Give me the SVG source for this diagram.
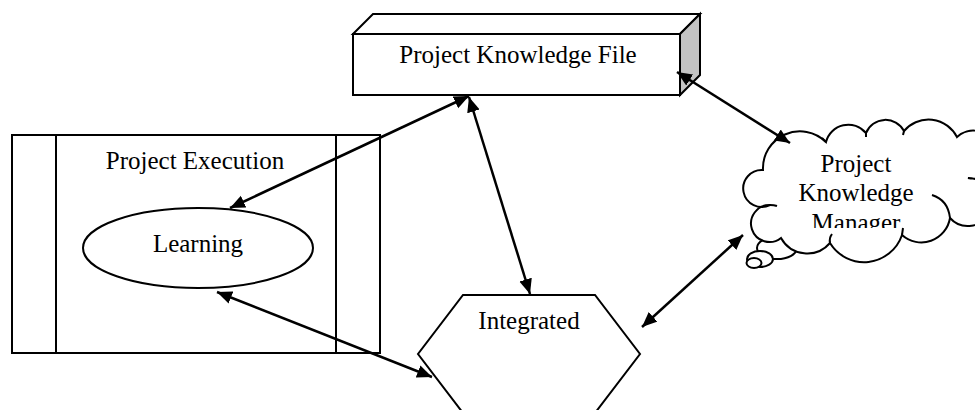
<svg xmlns="http://www.w3.org/2000/svg" width="975" height="410" viewBox="0 0 975 410">
<defs>
<style>
.s{fill:#fff;stroke:#000;stroke-width:2;stroke-linejoin:miter}
.ln{fill:none;stroke:#000;stroke-width:2}
.t{font-family:"Liberation Serif","Times New Roman",serif;font-size:25px;fill:#000;text-anchor:middle}
.c{fill:none;stroke:#000;stroke-width:2.5;marker-start:url(#ah);marker-end:url(#ah)}
</style>
<marker id="ah" markerUnits="userSpaceOnUse" markerWidth="16" markerHeight="14" refX="15" refY="6.5" orient="auto-start-reverse" viewBox="0 0 16 13"><path d="M0,0 L15,6.5 L0,13 z" fill="#000"/></marker>
<clipPath id="cc"><rect x="700" y="100" width="275" height="128"/></clipPath>
</defs>
<rect width="975" height="410" fill="#fff"/>
<g id="project-execution">
<rect class="s" x="12" y="135" width="368" height="218"/>
<line class="ln" x1="56" y1="135" x2="56" y2="353"/>
<line class="ln" x1="336" y1="135" x2="336" y2="353"/>
<text class="t" x="195" y="169">Project Execution</text>
</g>
<g id="learning">
<ellipse class="s" cx="198" cy="248" rx="115" ry="40"/>
<text class="t" x="198" y="252">Learning</text>
</g>
<g id="project-knowledge-file">
<polygon class="s" points="353,34 373,14 700,14 680,34"/>
<polygon class="s" points="680,34 700,14 700,75 680,95" style="fill:#c4c4c4"/>
<rect class="s" x="353" y="34" width="327" height="61"/>
<text class="t" x="518" y="63">Project Knowledge File</text>
</g>
<g id="integrated">
<polygon class="s" points="463,295 595,295 640,354 595,413 463,413 418,354"/>
<text class="t" x="529" y="329">Integrated</text>
</g>
<g id="project-knowledge-manager">
<ellipse class="s" cx="777" cy="248" rx="20" ry="11"/>
<ellipse class="s" cx="760" cy="259" rx="13" ry="8"/>
<ellipse class="s" cx="754" cy="263" rx="7.5" ry="5"/>
<path class="s" d="M763,170 A37,37 0 0 1 826,142 A23,23 0 0 1 866,133 A21,21 0 0 1 904,131 A32,32 0 0 1 957,137 A24,24 0 1 1 968,178 A24,24 0 1 1 950,218 A29,29 0 0 1 902,235 A40,40 0 0 1 830,243 A30,30 0 0 1 781,238 A18.5,18.5 0 1 1 770,205 A18.5,18.5 0 1 1 763,170 Z"/>
<path class="ln" d="M932,195 Q948,200 950,218 M830,243 Q829,238 832,234 M902,235 L903,228 M770,205 Q774,205 777,206 M866,133 L866,137 M904,131 L903,135 M826,142 L822,138"/>
<g clip-path="url(#cc)">
<text class="t" x="856" y="172">Project</text>
<text class="t" x="856" y="201">Knowledge</text>
<text class="t" x="856" y="231">Manager</text>
</g>
</g>
<g id="connectors">
<line class="c" x1="469" y1="96" x2="230" y2="208"/>
<line class="c" x1="469" y1="97" x2="530" y2="294"/>
<line class="c" x1="677" y1="72" x2="790" y2="143"/>
<line class="c" x1="642" y1="327" x2="743" y2="235"/>
<line class="c" x1="217" y1="292" x2="432" y2="377"/>
</g>
</svg>
